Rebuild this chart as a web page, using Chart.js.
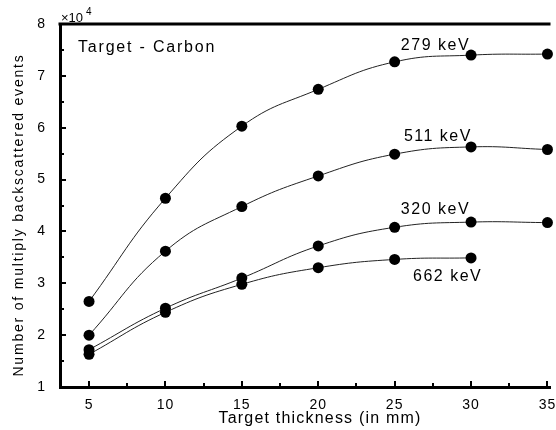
<!DOCTYPE html>
<html>
<head>
<meta charset="utf-8">
<script src="https://cdn.jsdelivr.net/npm/chart.js@4/dist/chart.umd.min.js"></script>
<style>
    html, body { margin: 0; padding: 0; background: #fff; }
    #wrap { width: 556px; height: 430px; }
</style>
</head>
<body>
<div id="wrap"><canvas id="grafico"></canvas></div>
<script>
/* DADOS (contagens em unidades de 10^4) */

const espessura = [5, 10, 15, 20, 25, 30, 35];
const e279 = [2.65, 4.64, 6.03, 6.74, 7.27, 7.40, 7.42];
const e511 = [2.00, 3.62, 4.48, 5.07, 5.49, 5.63, 5.58];
const e320 = [1.72, 2.52, 3.10, 3.72, 4.08, 4.18, 4.17];
const e662 = [1.63, 2.44, 2.98, 3.30, 3.46, 3.49];

const ticksX = [5, 10, 15, 20, 25, 30, 35];
const ticksY = [1, 2, 3, 4, 5, 6, 7, 8];
const menoresX = [7.5, 12.5, 17.5, 22.5, 27.5, 32.5];
const menoresY = [1.5, 2.5, 3.5, 4.5, 5.5, 6.5, 7.5];

// rotulos das curvas: [texto, x, y] em valores dos eixos
const rotulos = [
    ['279 keV', 27.5, 7.62],
    ['511 keV', 27.7, 5.85],
    ['320 keV', 27.5, 4.45],
    ['662 keV', 28.3, 3.16]
];

/* FUNCOES */

function pontos(valores) {
    return valores.map((v, i) => ({ x: espessura[i], y: v }));
}

function serie(label, valores) {
    return {
        label: label,
        data: pontos(valores),
        borderColor: '#222',
        borderWidth: 1,
        backgroundColor: '#000',
        pointRadius: 5.5,
        pointBackgroundColor: '#000',
        pointBorderWidth: 0,
        tension: 0.45,
        clip: false
    };
}

const FONTE = '"Liberation Sans", Arial, sans-serif';

const moldura = {
    id: 'moldura',
    beforeDraw(chart) {
        chart.ctx.letterSpacing = '1px';
    },
    afterDraw(chart) {
        const ctx = chart.ctx;
        const area = chart.chartArea;
        const sx = chart.scales.x;
        const sy = chart.scales.y;
        ctx.save();
        ctx.strokeStyle = '#000';

        // linha de cima
        ctx.lineWidth = 3;
        ctx.beginPath();
        ctx.moveTo(area.left - 1.5, area.top);
        ctx.lineTo(area.right, area.top);
        ctx.stroke();

        // marcas para dentro
        ctx.lineWidth = 2;
        ctx.beginPath();
        ticksX.forEach(v => {
            const px = Math.round(sx.getPixelForValue(v));
            ctx.moveTo(px, area.bottom); ctx.lineTo(px, area.bottom - 6);
        });
        menoresX.forEach(v => {
            const px = Math.round(sx.getPixelForValue(v));
            ctx.moveTo(px, area.bottom); ctx.lineTo(px, area.bottom - 4);
        });
        ticksY.forEach(v => {
            const py = Math.round(sy.getPixelForValue(v));
            ctx.moveTo(area.left, py); ctx.lineTo(area.left + 6, py);
        });
        menoresY.forEach(v => {
            const py = Math.round(sy.getPixelForValue(v));
            ctx.moveTo(area.left, py); ctx.lineTo(area.left + 4, py);
        });
        ctx.stroke();

        ctx.fillStyle = '#000';

        // textos dentro do grafico
        ctx.font = '16px ' + FONTE;
        ctx.letterSpacing = '1.8px';
        ctx.textAlign = 'left';
        ctx.textBaseline = 'alphabetic';
        ctx.fillText('Target - Carbon', 78, 52);

        ctx.letterSpacing = '1.5px';
        rotulos.forEach(r => {
            ctx.fillText(r[0], sx.getPixelForValue(r[1]) - 32, sy.getPixelForValue(r[2]) + 6);
        });

        // x10^4
        ctx.letterSpacing = '0px';
        ctx.font = '13px ' + FONTE;
        ctx.fillText('\u00d710', 61, 22);
        ctx.font = '10px ' + FONTE;
        ctx.fillText('4', 86, 15);

        // titulo do eixo x
        ctx.font = '16px ' + FONTE;
        ctx.letterSpacing = '1.2px';
        ctx.textAlign = 'center';
        ctx.fillText('Target thickness (in mm)', 320, 423);

        // titulo do eixo y
        ctx.font = '14px ' + FONTE;
        ctx.letterSpacing = '1.8px';
        ctx.translate(23, 215);
        ctx.rotate(-Math.PI / 2);
        ctx.fillText('Number of multiply backscattered events', 0, 0);
        ctx.restore();
    }
};

/* GRAFICO */

const canvas = document.querySelector('#grafico');

const grafico = new Chart(canvas, {
    type: 'line',
    data: {
        datasets: [
            serie('279 keV', e279),
            serie('511 keV', e511),
            serie('320 keV', e320),
            serie('662 keV', e662)
        ]
    },
    options: {
        responsive: true,
        maintainAspectRatio: false,
        animation: false,
        layout: { padding: { top: 24, right: 0, left: 0, bottom: 0 } },
        plugins: {
            legend: { display: false },
            tooltip: { enabled: false }
        },
        scales: {
            x: {
                type: 'linear',
                min: 3.1,
                max: 35.2,
                grid: { display: false, drawTicks: false },
                border: { display: true, color: '#000', width: 3 },
                ticks: {
                    color: '#000',
                    font: { size: 14, family: FONTE },
                    padding: 10,
                    maxRotation: 0
                },
                afterBuildTicks: escala => {
                    escala.ticks = ticksX.map(v => ({ value: v }));
                },
                afterFit: escala => {
                    escala.height = 43;
                    escala.paddingLeft = 0;
                    escala.paddingRight = 0;
                }
            },
            y: {
                type: 'linear',
                min: 1,
                max: 8,
                grid: { display: false, drawTicks: false },
                border: { display: true, color: '#000', width: 3 },
                ticks: {
                    color: '#000',
                    font: { size: 14, family: FONTE },
                    padding: 14
                },
                afterBuildTicks: escala => {
                    escala.ticks = ticksY.map(v => ({ value: v }));
                },
                afterFit: escala => {
                    escala.width = 60;
                    escala.paddingTop = 0;
                    escala.paddingBottom = 0;
                }
            }
        }
    },
    plugins: [moldura]
});
</script>
</body>
</html>
